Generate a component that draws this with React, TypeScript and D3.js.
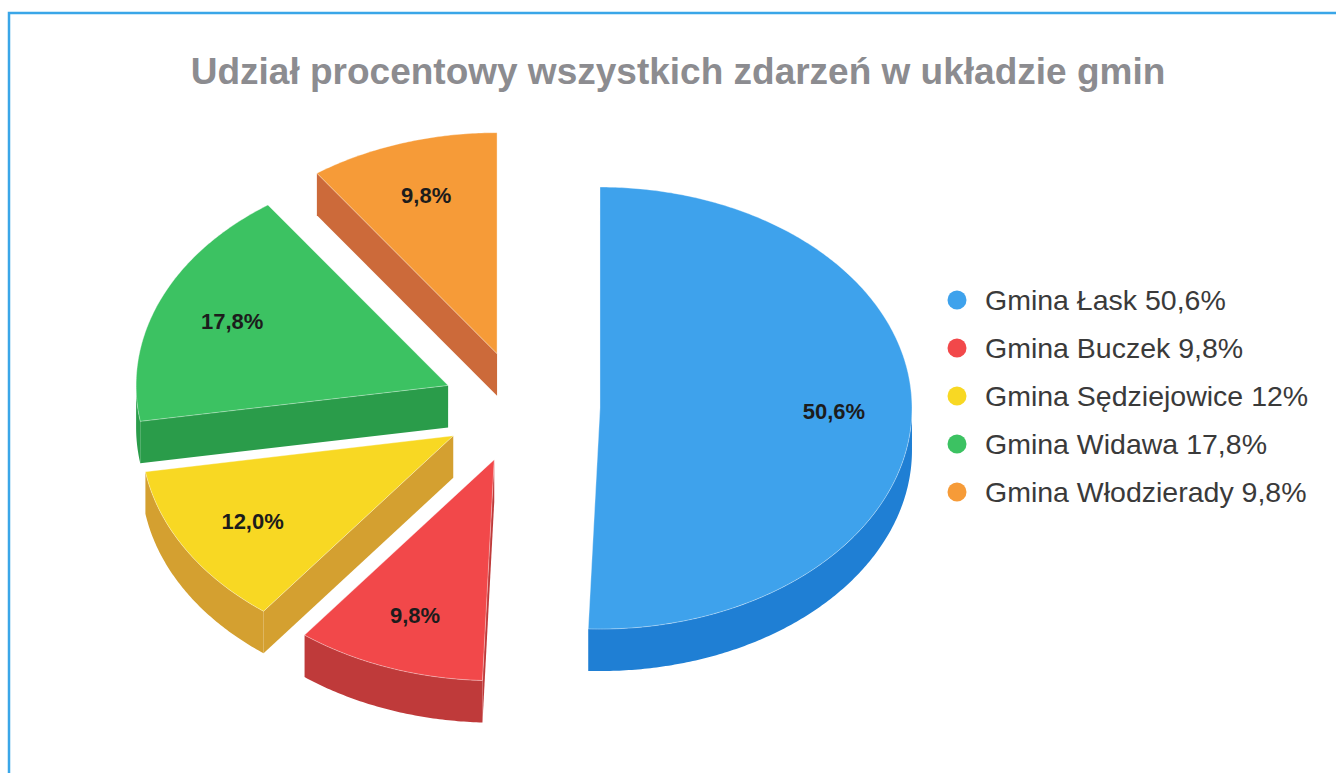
import React from 'react';
import * as d3 from 'd3';

const categories = ['Gmina Łask', 'Gmina Buczek', 'Gmina Sędziejowice', 'Gmina Widawa', 'Gmina Włodzierady'];
const values = [50.6, 9.8, 12.0, 17.8, 9.8];
const dataLabels = ['50,6%', '9,8%', '12,0%', '17,8%', '9,8%'];
const legendValues = ['50,6%', '9,8%', '12%', '17,8%', '9,8%'];
const topColors = ['#3ea2ec', '#f2484a', '#f8d823', '#3cc262', '#f69b38'];
const sideColors = ['#1f7fd4', '#bf3a3a', '#d4a030', '#2a9c4a', '#cc6a3a'];
const title = 'Udział procentowy wszystkich zdarzeń w układzie gmin';

const W = 1336;
const H = 773;
const CX = 521;
const CY = 407;
const RX = 312;
const TILT = 221 / 312;
const DEPTH = 42;
const EXPLODE = 79;

export default function App() {
  const pie = d3.pie<number>().sort(null).startAngle(0).endAngle(2 * Math.PI);
  const arcs = pie(values);
  const line = d3.line();

  const slices = arcs.map((a, i) => {
    const mid = (a.startAngle + a.endAngle) / 2;
    const ax = CX + EXPLODE * Math.sin(mid);
    const ay = CY - EXPLODE * Math.cos(mid) * TILT;
    const proj = (r: number, t: number, dz = 0): [number, number] => [
      ax + r * Math.sin(t),
      ay - r * Math.cos(t) * TILT + dz,
    ];
    const sample = (t0: number, t1: number, dz: number) => {
      const n = Math.max(8, Math.ceil(Math.abs(t1 - t0) / 0.01));
      return d3.range(n + 1).map((j) => proj(RX, t0 + ((t1 - t0) * j) / n, dz));
    };
    const top = [[ax, ay] as [number, number], ...sample(a.startAngle, a.endAngle, 0)];
    const faces: string[] = [];
    const radial = (t: number) =>
      line([[ax, ay], proj(RX, t), proj(RX, t, DEPTH), [ax, ay + DEPTH]])! + 'Z';
    if (Math.sin(a.startAngle) < -1e-6) faces.push(radial(a.startAngle));
    if (Math.sin(a.endAngle) > 1e-6) faces.push(radial(a.endAngle));
    const s0 = Math.max(a.startAngle, Math.PI / 2);
    const s1 = Math.min(a.endAngle, (3 * Math.PI) / 2);
    let outer: string | null = null;
    if (s1 > s0) {
      const pts = [...sample(s0, s1, 0), ...sample(s1, s0, DEPTH)];
      outer = line(pts)! + 'Z';
    }
    const lp = proj(RX * 0.75, mid);
    return { i, ay, top: line(top)! + 'Z', faces, outer, lp };
  });

  const order = [...slices].sort((p, q) => p.ay - q.ay);

  const legendX = 957;
  const legendY0 = 300;
  const legendStep = 48;

  return (
    <svg
      width={W}
      height={H}
      style={{ position: 'absolute', left: 0, top: 0, background: '#fff' }}
      fontFamily="'Liberation Sans', Arial, sans-serif"
    >
      <rect x={0} y={0} width={W} height={H} fill="#fff" />
      <path d={`M9,${H} L9,13 L${W},13`} fill="none" stroke="#3aa6e8" strokeWidth={2.5} />
      <text x={678} y={84} textAnchor="middle" fontSize={37} fontWeight="bold" fill="#8c8c90">
        {title}
      </text>
      {order.map((s) => (
        <g key={s.i}>
          {s.faces.map((f, k) => (
            <path key={k} d={f} fill={sideColors[s.i]} />
          ))}
          {s.outer && <path d={s.outer} fill={sideColors[s.i]} />}
          <path d={s.top} fill={topColors[s.i]} stroke="rgba(255,255,255,0.35)" strokeWidth={1} />
        </g>
      ))}
      {slices.map((s) => (
        <text
          key={'l' + s.i}
          x={s.lp[0]}
          y={s.lp[1]}
          dy="0.35em"
          textAnchor="middle"
          fontSize={22}
          fontWeight="bold"
          fill="#1c1c1c"
        >
          {dataLabels[s.i]}
        </text>
      ))}
      {categories.map((c, i) => (
        <g key={'g' + i} transform={`translate(${legendX},${legendY0 + i * legendStep})`}>
          <circle r={9.5} fill={topColors[i]} />
          <text x={28} dy="0.36em" fontSize={28.5} fill="#3a3a3a">
            {c} {legendValues[i]}
          </text>
        </g>
      ))}
    </svg>
  );
}
